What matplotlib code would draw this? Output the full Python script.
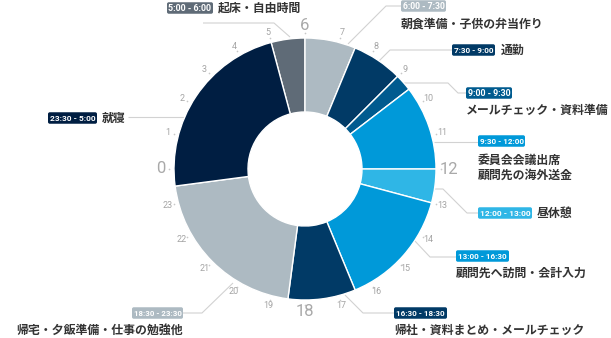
import matplotlib
matplotlib.use("Agg")
import matplotlib.pyplot as plt
from matplotlib.patches import FancyBboxPatch
import numpy as np

# ---------------- data ----------------
time_ranges = ["5:00 - 6:00", "6:00 - 7:30", "7:30 - 9:00", "9:00 - 9:30", "9:30 - 12:00",
               "12:00 - 13:00", "13:00 - 16:30", "16:30 - 18:30", "18:30 - 23:30", "23:30 - 5:00"]
activities = ["起床・自由時間", "朝食準備・子供の弁当作り", "通勤", "メールチェック・資料準備",
              "委員会会議出席\n顧問先の海外送金", "昼休憩", "顧問先へ訪問・会計入力",
              "帰社・資料まとめ・メールチェック", "帰宅・夕飯準備・仕事の勉強他", "就寝"]
durations = [1, 1.5, 1.5, 0.5, 2.5, 1, 3.5, 2, 5, 5.5]
start_hour = 5
hours = list(range(24))
major_hours = [0, 6, 12, 18]

colors = ["#5f6b77", "#adbac2", "#013a66", "#005b8f", "#0099d9",
          "#2fb6e6", "#0099d9", "#013a66", "#adbac2", "#001e42"]

# ---------------- layout (pixels) ----------------
W, H = 611, 338
CX, CY, R_OUT, R_IN = 305, 169, 131, 57
layout = [
    dict(bx=167, by=8, bw=46, tx=218, ty=[8], ha="left",
         lead=[(290, 37), (274, 23), (203, 23)]),
    dict(bx=401, by=6, bw=45, tx=401, ty=[24], ha="left",
         lead=[(348, 44), (386, 6), (401, 6)]),
    dict(bx=452, by=50, bw=43, tx=501, ty=[50], ha="left",
         lead=[(379, 61), (390, 50), (452, 50)]),
    dict(bx=466, by=93, bw=46, tx=466, ty=[110], ha="left",
         lead=[(404, 83), (448, 83), (458, 93), (466, 93)]),
    dict(bx=478, by=141, bw=47, tx=478, ty=[160, 175], ha="left",
         lead=[(434, 142), (478, 142)]),
    dict(bx=478, by=213, bw=54, tx=537, ty=[213], ha="left",
         lead=[(434, 189), (443, 189), (467, 213), (478, 213)]),
    dict(bx=456, by=256, bw=53, tx=456, ty=[273], ha="left",
         lead=[(414, 240), (430, 257), (456, 257)]),
    dict(bx=394, by=313, bw=53, tx=394, ty=[330], ha="left",
         lead=[(345, 295), (363, 313), (394, 313)]),
    dict(bx=132, by=313, bw=51, tx=183, ty=[330], ha="right",
         lead=[(233, 283), (202, 313), (183, 313)]),
    dict(bx=48, by=118, bw=49, tx=102, ty=[118], ha="left",
         lead=[(185, 117), (128, 117)]),
]

CJK = ["Noto Sans CJK JP", "DejaVu Sans"]
NARROW = ["Roboto", "DejaVu Sans"]

fig = plt.figure(figsize=(W / 100, H / 100), dpi=100)
fig.patch.set_facecolor("white")
ax = fig.add_axes([0, 0, 1, 1])
ax.set_xlim(0, W)
ax.set_ylim(H, 0)
ax.axis("off")

# donut
pax = fig.add_axes([(CX - R_OUT) / W, (H - CY - R_OUT) / H, 2 * R_OUT / W, 2 * R_OUT / H])
start_angle = 90 - (start_hour - 6) * 15
pax.pie(durations, colors=colors, startangle=start_angle, counterclock=False, radius=1,
        wedgeprops=dict(width=(R_OUT - R_IN) / R_OUT, edgecolor="white", linewidth=1.0))
pax.set_xlim(-1, 1)
pax.set_ylim(-1, 1)
pax.axis("off")

# hour ticks
for h in hours:
    a = np.deg2rad(90 - (h - 6) * 15)
    dx, dy = np.cos(a), np.sin(a)
    ax.plot(CX + 136 * dx, CY - 136 * dy, marker="o", ms=1.2, color="#c8c8c8", mec="none")
    if h in major_hours:
        ax.text(CX + 144 * dx, CY - 143 * dy, str(h), ha="center", va="center",
                fontsize=12, color="#a9a9a9", family=NARROW)
    else:
        ax.text(CX + 142 * dx, CY - 141 * dy, str(h), ha="center", va="center",
                fontsize=6.5, color="#a4a4a4", family=NARROW)

# labels
BOX_H = 11.5
renderer = fig.canvas.get_renderer()
for tr, act, col, L in zip(time_ranges, activities, colors, layout):
    xs, ys = zip(*L["lead"])
    ax.plot(xs, ys, color="#d2d2d2", lw=0.8, solid_capstyle="butt", zorder=1)
    ax.add_patch(FancyBboxPatch((L["bx"], L["by"] - BOX_H / 2), L["bw"], BOX_H,
                                boxstyle="round,pad=0,rounding_size=1.8",
                                fc=col, ec="none", zorder=3))
    fs = 7.2
    t = ax.text(L["bx"] + L["bw"] / 2, L["by"] + 0.3, tr, ha="center", va="center",
                fontsize=fs, fontweight="bold", color="white", family=NARROW, zorder=4)
    # shrink font until it fits the box
    while t.get_window_extent(renderer).width > L["bw"] - 3 and fs > 4:
        fs -= 0.1
        t.set_fontsize(fs)
    for line, y in zip(act.split("\n"), L["ty"]):
        ax.text(L["tx"], y, line, ha=L["ha"], va="center", fontsize=8.6,
                color="#333333", family=CJK, fontweight="bold", zorder=4)

fig.savefig("out.png", dpi=100, facecolor="white")
